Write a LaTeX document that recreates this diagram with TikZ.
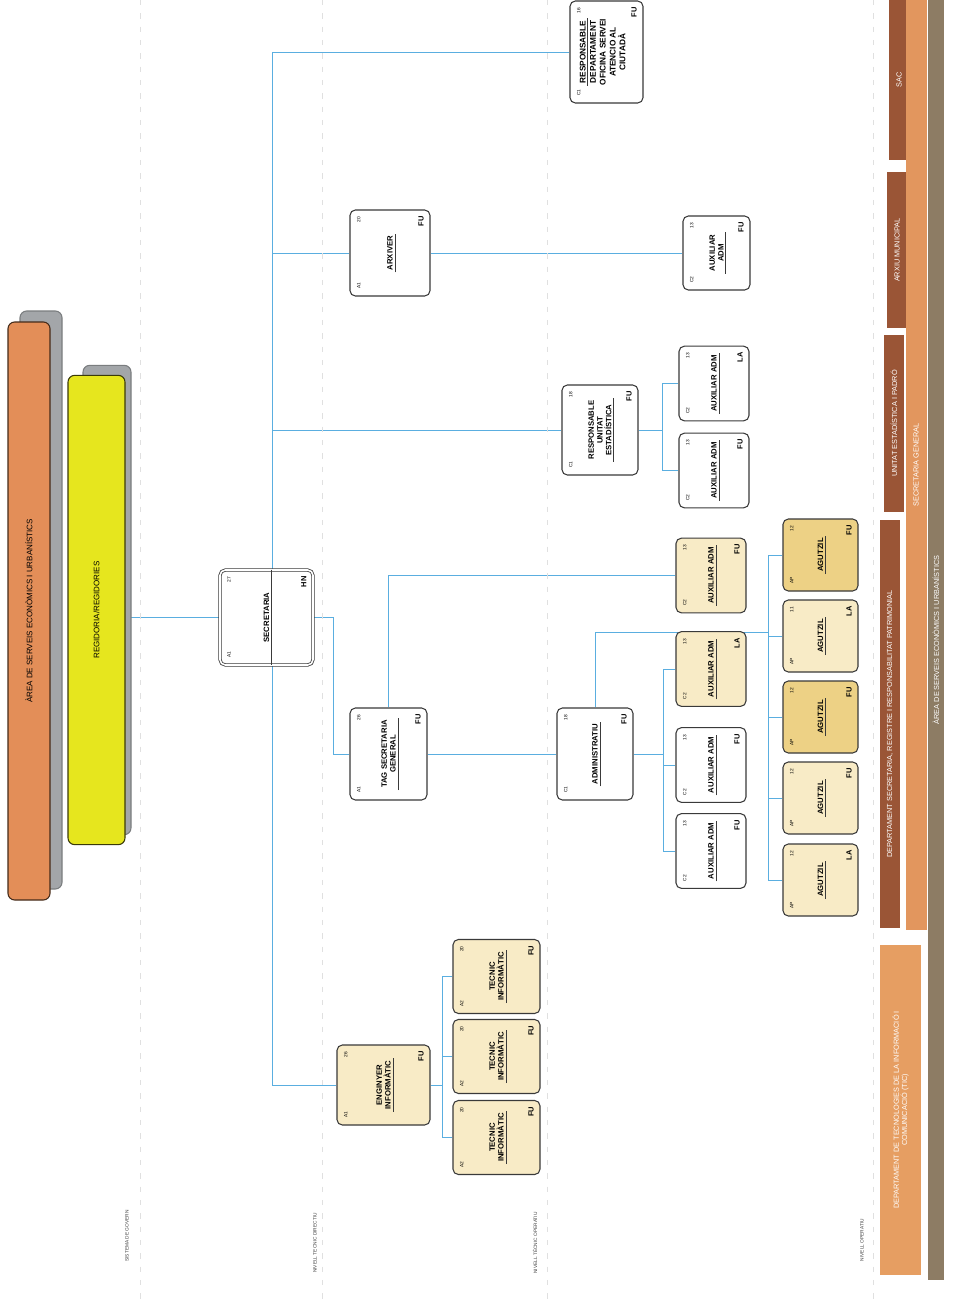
\documentclass[tikz,border=0pt]{standalone}
\usepackage{fontspec}
\setmainfont{Liberation Sans}
\usetikzlibrary{positioning,calc,backgrounds}
\definecolor{wire}{HTML}{5AAEE0}
\definecolor{cream}{HTML}{F8EBC6}
\definecolor{gold}{HTML}{EDD185}
\definecolor{edge}{HTML}{3A3A3A}
\definecolor{areaorange}{HTML}{E38E58}
\definecolor{regiyellow}{HTML}{E6E61E}
\definecolor{shade}{HTML}{A3A6A9}
\definecolor{brownbar}{HTML}{9A5536}
\definecolor{sgorange}{HTML}{E2965E}
\definecolor{ticorange}{HTML}{E69E62}
\definecolor{areagray}{HTML}{8D7C64}

% one post box: [box options]{name}{x,y}{grade}{level}{title}{regime}
\newcommand{\post}[7][]{%
  \node[post,#1] (#2) at (#3) {};
  \node[grade,anchor=north west] at (#2.north west) {#4};
  \node[grade,anchor=north east] at (#2.north east) {#5};
  \node[ttl] (#2-t) at (#2.center) {#6};
  \draw[rule] (#2-t.south west) -- (#2-t.south east);
  \node[regime,anchor=south east] at (#2.south east) {#7};
}

\begin{document}
\begin{tikzpicture}[
  x=0.75pt, y=-0.75pt,
  post/.style={rectangle, rounded corners=4pt, draw=edge, line width=0.8pt, fill=white, rotate=90, minimum width=56pt, minimum height=52.5pt, inner sep=0pt},
  grade/.style={rotate=90, inner sep=5.5pt, font=\fontsize{3.6}{4}\selectfont},
  ttl/.style={rotate=90, align=center, inner sep=1.5pt, font=\fontsize{5.8}{6.6}\selectfont\bfseries},
  regime/.style={rotate=90, inner sep=5pt, font=\fontsize{5.6}{6}\selectfont\bfseries},
  rule/.style={draw=edge, line width=0.6pt},
  link/.style={draw=wire, line width=0.7pt},
  tier/.style={rotate=90, font=\fontsize{3.6}{4}\selectfont, text=black!75},
  tierline/.style={draw=black!12, dash pattern=on 4pt off 6pt, line width=0.4pt},
  band/.style={rectangle, rotate=90, inner sep=0pt, text=white, font=\fontsize{5.5}{6.2}\selectfont, align=center},
  pillar/.style={rectangle, rounded corners=5pt, rotate=90, line width=0.8pt, font=\fontsize{6}{7}\selectfont},
  pillarshade/.style={pillar, fill=shade, draw=shade!75!black}
]
\useasboundingbox (0,0) rectangle (955,1303);
\begin{pgfonlayer}{background}
\fill[white] (0,0) rectangle (955,1303);
\end{pgfonlayer}

% levels
\foreach \x in {140,322,547,873}
  \draw[tierline] (\x,0) -- (\x,1303);
\node[tier] (tGov) at (127,1236) {SISTEMA DE GOVERN};
\node[tier] (tDir) at (315,1243) {NIVELL TECNIC DIRECTIU};
\node[tier] (tOpe) at (535,1243) {NIVELL TÈCNIC OPERATIU};
\node[tier] (tOp) at (862,1240) {NIVELL OPERATIU};

% govern
\node[pillarshade, minimum width=433.5pt, minimum height=31.5pt] (areaS) at (41,600) {};
\node[pillar, fill=areaorange, draw=black!70!areaorange, minimum width=433.5pt, minimum height=31.5pt] (area) at (29,611) {ÀREA DE SERVEIS ECONÒMICS I URBANÍSTICS};
\node[pillarshade, minimum width=352pt, minimum height=36pt] (regiS) at (107,600) {};
\node[pillar, fill=regiyellow, draw=black!75!regiyellow, minimum width=352pt, minimum height=42.75pt] (regi) at (96.5,610) {REGIDORIA/REGIDORIES};

% posts
\post[minimum width=71.25pt, minimum height=69.75pt, double=white, double distance=1.2pt, line width=0.6pt]{sec}{266.5,617.5}{A1}{27}{SECRETARIA}{HN}
\draw[rule] (sec-t.south |- sec.east) -- (sec-t.south |- sec.west);
\post[minimum width=69pt, minimum height=57.75pt]{tag}{388.5,754}{A1}{26}{TAG SECRETARIA\\GENERAL}{FU}
\post[minimum width=69pt, minimum height=57pt]{adm}{595,754}{C1}{18}{ADMINISTRATIU}{FU}
\post[minimum width=64.5pt, minimum height=60pt]{arx}{390,253}{A1}{20}{ARXIVER}{FU}
\post[minimum width=67.5pt, minimum height=57pt]{rue}{600,430}{C1}{18}{RESPONSABLE\\UNITAT\\ESTADÍSTICA}{FU}

\node[post, minimum width=76.5pt, minimum height=54.75pt] (rdo) at (606.5,52) {};
\node[grade,anchor=north west] at (rdo.north west) {C1};
\node[grade,anchor=north east] at (rdo.north east) {16};
\node[ttl,anchor=north,font=\fontsize{6.2}{7.4}\selectfont\bfseries] (rdo-t) at ($(rdo.north)+(8,0)$) {RESPONSABLE};
\draw[rule] (rdo-t.south west) -- (rdo-t.south east);
\node[ttl,anchor=north,font=\fontsize{6.2}{7.4}\selectfont\bfseries] (rdo-s) at (rdo-t.south) {DEPARTAMENT\\OFICINA SERVEI\\ATENCIO AL\\CIUTADÀ};
\node[regime,anchor=south east] at (rdo.south east) {FU};

\post[minimum width=55.5pt, minimum height=50.25pt]{aux1}{716.5,253}{C2}{13}{AUXILIAR\\ADM}{FU}
\post{aux2}{714,383.5}{C2}{13}{AUXILIAR ADM}{LA}
\post{aux3}{714,470.5}{C2}{13}{AUXILIAR ADM}{FU}
\post[fill=cream]{aux4}{711,575.5}{C2}{13}{AUXILIAR ADM}{FU}
\post[fill=cream]{aux5}{711,669}{C2}{13}{AUXILIAR ADM}{LA}
\post{aux6}{711,765}{C2}{13}{AUXILIAR ADM}{FU}
\post{aux7}{711,851}{C2}{13}{AUXILIAR ADM}{FU}

\post[fill=gold, minimum width=54pt, minimum height=56.25pt]{ag1}{820.5,555}{AP}{12}{AGUTZIL}{FU}
\post[fill=cream, minimum width=54pt, minimum height=56.25pt]{ag2}{820.5,636}{AP}{11}{AGUTZIL}{LA}
\post[fill=gold, minimum width=54pt, minimum height=56.25pt]{ag3}{820.5,717}{AP}{12}{AGUTZIL}{FU}
\post[fill=cream, minimum width=54pt, minimum height=56.25pt]{ag4}{820.5,798}{AP}{12}{AGUTZIL}{FU}
\post[fill=cream, minimum width=54pt, minimum height=56.25pt]{ag5}{820.5,880}{AP}{12}{AGUTZIL}{LA}

\post[fill=cream, minimum width=60pt, minimum height=69.75pt]{eng}{383.5,1085}{A1}{26}{ENGINYER\\INFORMÀTIC}{FU}
\post[fill=cream, minimum width=55.5pt, minimum height=65.25pt]{tec1}{496.5,976.5}{A2}{20}{TECNIC\\INFORMÀTIC}{FU}
\post[fill=cream, minimum width=55.5pt, minimum height=65.25pt]{tec2}{496.5,1056.5}{A2}{20}{TECNIC\\INFORMÀTIC}{FU}
\post[fill=cream, minimum width=55.5pt, minimum height=65.25pt]{tec3}{496.5,1137.5}{A2}{20}{TECNIC\\INFORMÀTIC}{FU}

% units
\node[band, fill=brownbar, minimum width=120pt, minimum height=15pt] (sac) at (899,80) {SAC};
\node[band, fill=brownbar, minimum width=117pt, minimum height=15pt] (arxm) at (897,250) {ARXIU MUNICIPAL};
\node[band, fill=brownbar, minimum width=132.75pt, minimum height=15pt] (uep) at (894,423.5) {UNITAT ESTADÍSTICA I PADRÓ};
\node[band, fill=brownbar, minimum width=306pt, minimum height=15pt] (dsr) at (890,724) {DEPARTAMENT SECRETARIA, REGISTRE I RESPONSABILITAT PATRIMONIAL};
\node[band, fill=sgorange, minimum width=697.5pt, minimum height=15.75pt] (sg) at (916,465) {SECRETARIA GENERAL};
\node[band, fill=areagray, minimum width=960pt, minimum height=12pt] (areaB) at (936,640) {ÀREA DE SERVEIS ECONÒMICS I URBANÍSTICS};
\node[band, fill=ticorange, minimum width=247.5pt, minimum height=30.75pt] (tic) at (900.5,1110) {DEPARTAMENT DE TECNOLOGIES DE LA INFORMACIÓ I\\COMUNICACIÓ (TIC)};

% connectors
\begin{pgfonlayer}{background}
\coordinate (trTop) at (272,52);
\coordinate (trBot) at (272,1085);
\coordinate (secJ) at (333,617.5);
\coordinate (rueJ) at (662,430);
\coordinate (admJ) at (663,754);
\coordinate (agJ) at (768,632);
\coordinate (engJ) at (442,1085);
\draw[link] (trTop) -- (trBot);
\draw[link] (trTop) -- (rdo.north);
\draw[link] (arx.north -| trTop) -- (arx.north);
\draw[link] (arx.south) -- (aux1.north);
\draw[link] (rue.north -| trTop) -- (rue.north);
\draw[link] (rue.south) -- (rueJ);
\draw[link] (rueJ) |- (aux2.north);
\draw[link] (rueJ) |- (aux3.north);
\draw[link] (sec.north -| regi.south) -- (sec.north);
\draw[link] (sec.south) -- (secJ) |- (tag.north);
\draw[link] (tag.east) |- (aux4.north);
\draw[link] (tag.south) -- (adm.north);
\draw[link] (adm.south) -- (admJ);
\foreach \n in {aux5,aux6,aux7}
  \draw[link] (admJ) |- (\n.north);
\draw[link] (adm.east) |- (agJ);
\foreach \n in {ag1,ag2,ag3,ag4,ag5}
  \draw[link] (agJ) |- (\n.north);
\draw[link] (trBot) -- (eng.north);
\draw[link] (eng.south) -- (engJ);
\foreach \n in {tec1,tec2,tec3}
  \draw[link] (engJ) |- (\n.north);
\end{pgfonlayer}
\end{tikzpicture}
\end{document}
